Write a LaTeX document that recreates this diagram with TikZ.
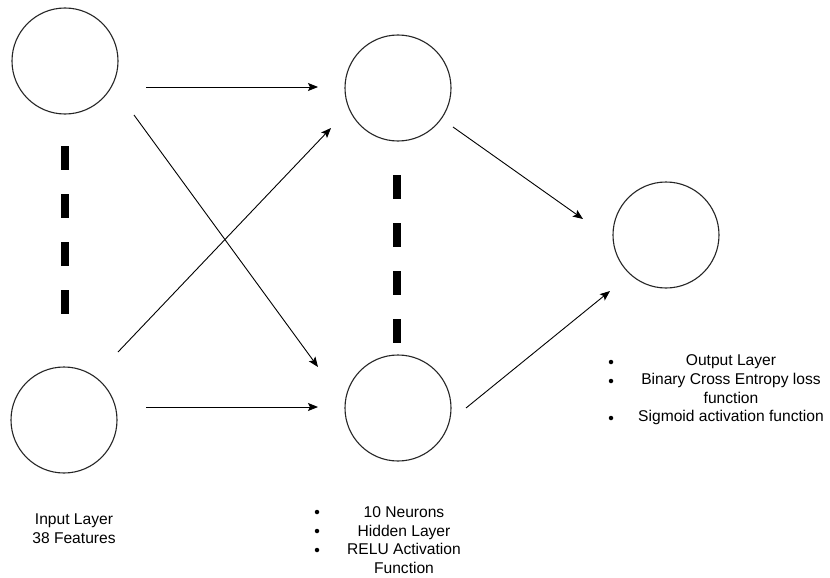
\documentclass[tikz,border=0pt]{standalone}
\usepackage{fontspec}
\setmainfont{Liberation Sans}
\usetikzlibrary{arrows.meta}
\begin{document}
\begin{tikzpicture}[x=1pt,y=-1pt,
  neuron/.style={draw=black!85,line width=1.1pt,circle,minimum size=106pt,inner sep=0pt},
  conn/.style={draw=black,line width=0.9pt,-{Stealth[length=10pt,width=8pt,inset=2pt]}},
  dots/.style={line width=8pt,dash pattern=on 24pt off 24pt},
  lbl/.style={align=center,font=\fontsize{15.6}{18.6}\selectfont,inner sep=0pt},
  bul/.style={circle,fill=black,inner sep=0pt,minimum size=4.5pt}]
\useasboundingbox[fill=white] (0,0) rectangle (830,578);
% neurons
\node[neuron] (i1) at (65,61) {};
\node[neuron] (i2) at (64,420) {};
\node[neuron] (h1) at (398,88) {};
\node[neuron] (h2) at (398,408) {};
\node[neuron] (o) at (666,235) {};
% vertical dashes
\coordinate (d1a) at (65,146); \coordinate (d1b) at (65,315);
\coordinate (d2a) at (397,175); \coordinate (d2b) at (397,343);
\draw[dots] (d1a) -- (d1b);
\draw[dots] (d2a) -- (d2b);
% arrow endpoints
\coordinate (a1s) at (146,87);  \coordinate (a1e) at (318,87);
\coordinate (a2s) at (118,352); \coordinate (a2e) at (331,128);
\coordinate (a3s) at (134,115); \coordinate (a3e) at (318,367);
\coordinate (a4s) at (146,407); \coordinate (a4e) at (318,407);
\coordinate (a5s) at (453,127); \coordinate (a5e) at (583,219);
\coordinate (a6s) at (466,408); \coordinate (a6e) at (610,291);
\draw[conn] (a1s) -- (a1e);
\draw[conn] (a2s) -- (a2e);
\draw[conn] (a3s) -- (a3e);
\draw[conn] (a4s) -- (a4e);
\draw[conn] (a5s) -- (a5e);
\draw[conn] (a6s) -- (a6e);
% labels
\node[lbl] (tin) at (74,529) {Input Layer\\38 Features};
\node[lbl] (thid) at (404,540) {10 Neurons\\Hidden Layer\\RELU Activation\\Function};
\node[bul] (b1) at (317,512) {};
\node[bul] (b2) at (317,531) {};
\node[bul] (b3) at (317,550) {};
\node[lbl] (tout) at (731,390) {Output Layer\\Binary Cross Entropy loss\\function\\Sigmoid activation function};
\node[bul] (b4) at (611,362) {};
\node[bul] (b5) at (611,381) {};
\node[bul] (b6) at (611,418) {};
\end{tikzpicture}
\end{document}
